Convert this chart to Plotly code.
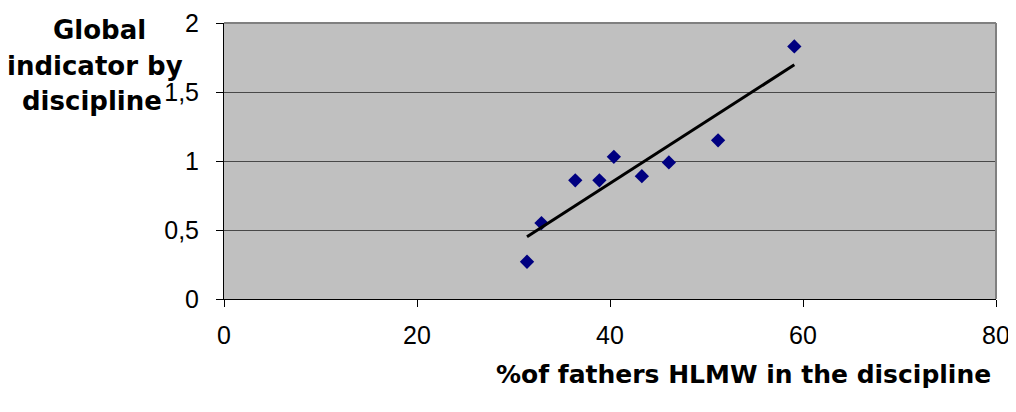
import numpy as np
import plotly.graph_objects as go

# Data
pct_fathers_hlmw = [31.4, 32.9, 36.4, 38.9, 40.4, 43.3, 46.1, 51.2, 59.1]
global_indicator = [0.27, 0.55, 0.86, 0.86, 1.03, 0.89, 0.99, 1.15, 1.83]

x_ticks = [0, 20, 40, 60, 80]
y_ticks = [0, 0.5, 1, 1.5, 2]
x_title = "%of fathers HLMW in the discipline"
y_title_lines = ["Global", "indicator by", "discipline"]

# Linear trendline (least squares)
slope, intercept = np.polyfit(pct_fathers_hlmw, global_indicator, 1)
tx = [min(pct_fathers_hlmw), max(pct_fathers_hlmw)]
ty = [slope * v + intercept for v in tx]

OFF = 8  # default page body margin
W, H = 1016 - OFF, 412 - 2 * OFF
L, R, T, B = 224 - OFF, 20, 23 - OFF, H - (299 - OFF)
pw, ph = W - L - R, H - T - B

fig = go.Figure()
fig.add_trace(go.Scatter(
    x=pct_fathers_hlmw, y=global_indicator, mode="markers",
    marker=dict(symbol="diamond", size=11, color="#000080", line=dict(width=0)),
    showlegend=False, hoverinfo="x+y",
))
fig.add_trace(go.Scatter(
    x=tx, y=ty, mode="lines", line=dict(color="black", width=3),
    showlegend=False, hoverinfo="skip",
))

tick_font = dict(family="Liberation Sans", size=25, color="black")
title_font = dict(family="DejaVu Sans", size=25, color="black", weight="bold")

fig.update_layout(
    width=W, height=H,
    margin=dict(l=L, r=R, t=T, b=B, pad=0),
    paper_bgcolor="white", plot_bgcolor="#C0C0C0",
    separators=",.",
    xaxis=dict(
        range=[0, 80], tickvals=x_ticks, showgrid=False, zeroline=False,
        showline=True, linecolor="black", linewidth=1, automargin=False,
        ticks="outside", ticklen=7, tickcolor="black", tickwidth=1,
        tickfont=tick_font, ticklabelstandoff=7, fixedrange=True,
    ),
    yaxis=dict(
        range=[0, 2], tickvals=y_ticks, showgrid=True, gridcolor="#484848", gridwidth=1,
        zeroline=False, showline=True, linecolor="black", linewidth=1, automargin=False,
        ticks="outside", ticklen=7, tickcolor="black", tickwidth=1,
        tickfont=tick_font, ticklabelstandoff=12, fixedrange=True,
    ),
    shapes=[
        dict(type="line", xref="x domain", yref="y domain", x0=0, x1=1, y0=1, y1=1,
             line=dict(color="#808080", width=2)),
        dict(type="line", xref="x domain", yref="y domain", x0=1, x1=1, y0=0, y1=1,
             line=dict(color="#808080", width=2)),
    ],
)

def px_to_paper_x(px):
    return (px - OFF - L) / pw

def px_to_paper_y(py):
    return (H - B - (py - OFF)) / ph

annotations = [
    dict(text=x_title, x=px_to_paper_x(743), y=px_to_paper_y(374), xref="paper", yref="paper",
         xanchor="center", yanchor="middle", showarrow=False, font=title_font),
]
y_line_centers = [30, 66, 101]
y_line_x = [99, 95, 92]
for txt, cy, cx in zip(y_title_lines, y_line_centers, y_line_x):
    annotations.append(dict(text=txt, x=px_to_paper_x(cx), y=px_to_paper_y(cy),
                            xref="paper", yref="paper", xanchor="center", yanchor="middle",
                            showarrow=False, font=dict(family="DejaVu Sans", size=26,
                                                       color="black", weight="bold")))
fig.update_layout(annotations=annotations)

fig.write_html("out.html")
